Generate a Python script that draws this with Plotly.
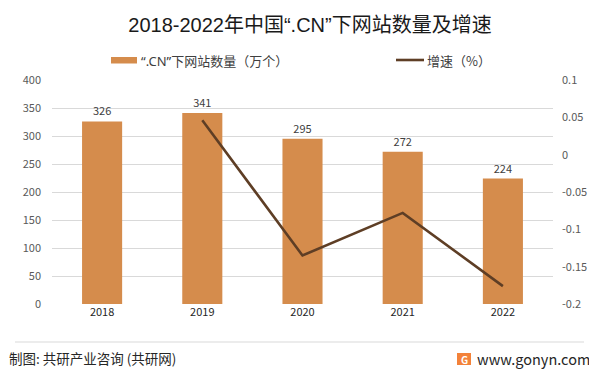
import plotly.graph_objects as go

years = ["2018", "2019", "2020", "2021", "2022"]
sites = [326, 341, 295, 272, 224]
growth_years = ["2019", "2020", "2021", "2022"]
growth = [0.046, -0.135, -0.078, -0.176]

left_ticks = [0, 50, 100, 150, 200, 250, 300, 350, 400]
right_ticks = [-0.2, -0.15, -0.1, -0.05, 0, 0.05, 0.1]
right_labels = ["-0.2", "-0.15", "-0.1", "-0.05", "0", "0.05", "0.1"]

LAT = "<span style='font-family:\"Liberation Sans Narrow\", \"Liberation Sans\"'>{}</span>"
LAT2 = "<span style='font-family:\"Noto Sans\"'>{}</span>"
TITLE = LAT.format("2018-2022") + "年中国" + LAT.format("“.CN”") + "下网站数量及增速"
BAR_NAME = LAT2.format("“.CN”") + "下网站数量（万个）"
LINE_NAME = "增速（%）"

BAR = "#D58C4C"
LINE = "#5E3E25"
FONT = "Noto Sans CJK SC"

# page body has an 8px default margin, so the figure is 8px smaller
OFF = 8
W, H = 597 - OFF, 373 - OFF
L, T, R, B = 44, 72, 44, 69
PW, PH = W - L - R, H - T - B  # 501 x 224


def px(xw):  # window x -> paper x
    return (xw - OFF - L) / PW


def py(yw):  # window y -> paper y
    return 1 - (yw - OFF - T) / PH


fig = go.Figure()
fig.add_trace(go.Bar(
    x=years, y=sites, name="“.CN”下网站数量（万个）",
    marker=dict(color=BAR, line=dict(width=0)), width=0.4,
    text=[str(v) for v in sites], textposition="outside",
    textfont=dict(size=11, color="#404040", family=FONT),
    cliponaxis=False, yaxis="y",
))
fig.add_trace(go.Scatter(
    x=growth_years, y=growth, name=LINE_NAME, mode="lines",
    line=dict(color=LINE, width=2.6), yaxis="y2",
))

fig.update_layout(
    width=W, height=H,
    margin=dict(l=L, r=R, t=T, b=B, autoexpand=False),
    paper_bgcolor="white", plot_bgcolor="white",
    font=dict(family=FONT, size=11, color="#595959"),
    title=dict(text=TITLE, x=px(310),
               xref="paper", xanchor="center",
               y=1 - (25 - OFF) / H, yanchor="middle",
               font=dict(size=20, color="#1a1a1a", family=FONT)),
    bargap=0.6,
    xaxis=dict(type="category", showgrid=False, showline=False, ticks="",
               tickfont=dict(size=11, color="#262626")),
    yaxis=dict(range=[0, 400], tickvals=left_ticks, showgrid=True,
               gridcolor="#D9D9D9", gridwidth=1, zeroline=False, showline=False,
               ticks="", ticklabelstandoff=10, tickfont=dict(size=11, color="#595959")),
    yaxis2=dict(range=[-0.2, 0.1], tickvals=right_ticks, ticktext=right_labels,
                overlaying="y", side="right", showgrid=False, zeroline=False,
                showline=False, ticks="", ticklabelstandoff=8,
                tickfont=dict(size=11, color="#595959")),
    showlegend=False,
)

# legend (drawn by hand to match swatch shapes)
fig.add_shape(type="rect", xref="paper", yref="paper",
              x0=px(111), x1=px(137), y0=py(57), y1=py(63.5),
              fillcolor=BAR, line=dict(width=0))
fig.add_annotation(text=BAR_NAME, xref="paper", yref="paper",
                   x=px(139), y=py(60), xanchor="left", yanchor="middle",
                   showarrow=False, font=dict(size=13, color="#404040", family=FONT))
fig.add_shape(type="line", xref="paper", yref="paper",
              x0=px(396), x1=px(424), y0=py(60), y1=py(60),
              line=dict(color=LINE, width=2.6))
fig.add_annotation(text=LINE_NAME, xref="paper", yref="paper",
                   x=px(425), y=py(60), xanchor="left", yanchor="middle",
                   showarrow=False, font=dict(size=13, color="#404040", family=FONT))

# footer
fig.add_shape(type="line", xref="paper", yref="paper",
              x0=px(15), x1=px(584), y0=py(342), y1=py(342),
              line=dict(color="#D9D9D9", width=1))
fig.add_annotation(text="制图: 共研产业咨询 (共研网)", xref="paper", yref="paper",
                   x=px(7), y=py(358), xanchor="left", yanchor="middle",
                   showarrow=False, font=dict(size=13.5, color="#262626", family=FONT))
fig.add_annotation(text="www.gonyn.com", xref="paper", yref="paper",
                   x=px(592), y=py(358), xanchor="right", yanchor="middle",
                   showarrow=False, font=dict(size=14.5, color="#262626", family=FONT))
fig.add_shape(type="rect", xref="paper", yref="paper",
              x0=px(457), x1=px(471), y0=py(353), y1=py(365),
              fillcolor="#F3823A", line=dict(width=0))
fig.add_annotation(text="<b>G</b>", xref="paper", yref="paper",
                   x=px(464), y=py(359), xanchor="center", yanchor="middle",
                   showarrow=False, font=dict(size=10, color="white", family=FONT))

fig.write_html("out.html")
